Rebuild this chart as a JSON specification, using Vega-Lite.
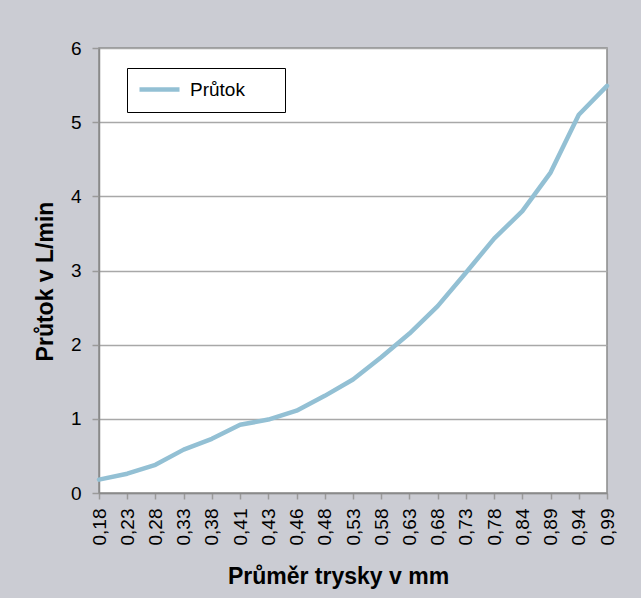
{
  "$schema": "https://vega.github.io/schema/vega-lite/v6.json",
  "width": 508,
  "height": 445,
  "autosize": {"type": "none"},
  "padding": {"left": 99, "top": 48, "right": 34, "bottom": 105},
  "background": "#cbccd3",
  "data": {
    "values": [
      {"prumer": "0,18", "prutok": 0.18, "serie": "Průtok"},
      {"prumer": "0,23", "prutok": 0.26, "serie": "Průtok"},
      {"prumer": "0,28", "prutok": 0.38, "serie": "Průtok"},
      {"prumer": "0,33", "prutok": 0.585, "serie": "Průtok"},
      {"prumer": "0,38", "prutok": 0.73, "serie": "Průtok"},
      {"prumer": "0,41", "prutok": 0.92, "serie": "Průtok"},
      {"prumer": "0,43", "prutok": 0.99, "serie": "Průtok"},
      {"prumer": "0,46", "prutok": 1.11, "serie": "Průtok"},
      {"prumer": "0,48", "prutok": 1.31, "serie": "Průtok"},
      {"prumer": "0,53", "prutok": 1.53, "serie": "Průtok"},
      {"prumer": "0,58", "prutok": 1.83, "serie": "Průtok"},
      {"prumer": "0,63", "prutok": 2.15, "serie": "Průtok"},
      {"prumer": "0,68", "prutok": 2.52, "serie": "Průtok"},
      {"prumer": "0,73", "prutok": 2.97, "serie": "Průtok"},
      {"prumer": "0,78", "prutok": 3.43, "serie": "Průtok"},
      {"prumer": "0,84", "prutok": 3.80, "serie": "Průtok"},
      {"prumer": "0,89", "prutok": 4.32, "serie": "Průtok"},
      {"prumer": "0,94", "prutok": 5.10, "serie": "Průtok"},
      {"prumer": "0,99", "prutok": 5.49, "serie": "Průtok"}
    ]
  },
  "mark": {"type": "line", "strokeWidth": 4.5, "strokeCap": "round", "strokeJoin": "round"},
  "encoding": {
    "x": {
      "field": "prumer",
      "type": "ordinal",
      "sort": null,
      "scale": {"type": "point", "padding": 0},
      "axis": {
        "title": "Průměr trysky v mm",
        "labelAngle": -90,
        "labelAlign": "right",
        "labelBaseline": "middle",
        "labelFontSize": 19,
        "labelPadding": 9,
        "tickSize": 6,
        "tickColor": "#9a9a9a",
        "domainColor": "#8a8a8a",
        "grid": false,
        "titleX": 239,
        "titleY": 90,
        "titleAlign": "center",
        "titleBaseline": "alphabetic"
      }
    },
    "y": {
      "field": "prutok",
      "type": "quantitative",
      "scale": {"domain": [0, 6], "nice": false},
      "axis": {
        "title": "Průtok v L/min",
        "values": [0, 1, 2, 3, 4, 5, 6],
        "labelFontSize": 19,
        "labelPadding": 11,
        "tickSize": 7,
        "tickColor": "#9a9a9a",
        "domainColor": "#8a8a8a",
        "grid": true,
        "gridColor": "#a8a8a8",
        "gridWidth": 1.5,
        "titleX": -54,
        "titleY": 233,
        "titleAlign": "center",
        "titleBaseline": "middle"
      }
    },
    "color": {
      "field": "serie",
      "type": "nominal",
      "scale": {"range": ["#93c0d4"]},
      "legend": {
        "title": null,
        "orient": "none",
        "legendX": 28,
        "legendY": 20,
        "padding": 12,
        "strokeColor": "#000000",
        "fillColor": "#ffffff",
        "symbolType": "M-4,0H4",
        "symbolSize": 100,
        "symbolOffset": 11,
        "symbolStrokeWidth": 4.5,
        "labelFontSize": 19,
        "labelOffset": 21,
        "labelColor": "#000000",
        "labelExpr": "datum.label + '\u2800\u2800'"
      }
    }
  },
  "config": {
    "font": "Liberation Sans",
    "view": {"stroke": "#8a8a8a", "strokeWidth": 1.5, "fill": "#ffffff"},
    "axis": {
      "labelFont": "Liberation Sans",
      "labelColor": "#000000",
      "titleFont": "Liberation Sans",
      "titleFontSize": 23,
      "titleFontWeight": "bold",
      "titleColor": "#000000",
      "domainWidth": 1.5,
      "tickWidth": 1.5
    },
    "legend": {"labelFont": "Liberation Sans"}
  }
}
